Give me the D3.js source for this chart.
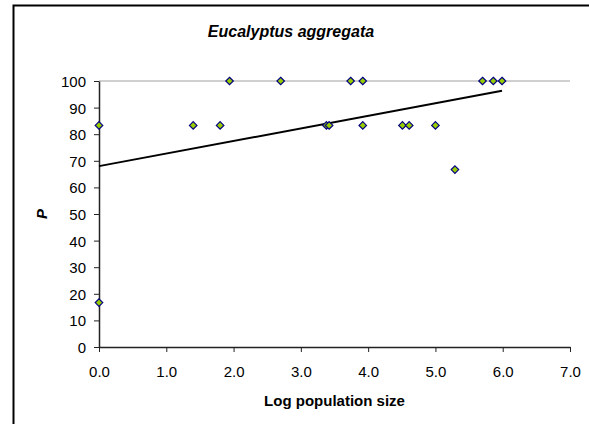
<!DOCTYPE html>
<html>
<head>
    <meta charset="UTF-8">
    <title>Eucalyptus aggregata</title>
    <script src="https://cdn.jsdelivr.net/npm/d3@7"></script>
    <style>
        body { margin: 0; background: #fff; }
        text { font-family: Arial, "Liberation Sans", sans-serif; }
    </style>
</head>
<body>
    <svg id="chart"></svg>
    <script>
        // data
        const logSize = [0, 0, 1.4, 1.8, 1.94, 2.7, 3.38, 3.42, 3.74, 3.92, 3.92, 4.51, 4.61, 5.0, 5.29, 5.7, 5.86, 5.99];
        const pValues = [83.3, 16.7, 83.3, 83.3, 100, 100, 83.3, 83.3, 100, 100, 83.3, 83.3, 83.3, 83.3, 66.7, 100, 100, 100];
        const trendX = [0, 5.99];
        const trendY = [68, 96.3];
        const xTicks = [0, 1, 2, 3, 4, 5, 6, 7];
        const yTicks = [0, 10, 20, 30, 40, 50, 60, 70, 80, 90, 100];

        const width = 589, height = 424;
        const margin = {left: 99, right: 19, top: 81, bottom: 77};

        const svg = d3.select("#chart")
            .attr("width", width)
            .attr("height", height);

        // chart area border (only top/left fall inside the picture)
        svg.append("rect")
            .attr("x", 13.5).attr("y", 5.5)
            .attr("width", 600).attr("height", 500)
            .attr("fill", "none")
            .attr("stroke", "#000")
            .attr("stroke-width", 2);

        const x = d3.scaleLinear().domain([0, 7]).range([margin.left, width - margin.right]);
        const y = d3.scaleLinear().domain([0, 100]).range([height - margin.bottom, margin.top]);

        // gridline at top
        svg.append("line")
            .attr("x1", x(0)).attr("x2", x(7))
            .attr("y1", y(100)).attr("y2", y(100))
            .attr("stroke", "#a0a0a0")
            .attr("stroke-width", 1);

        // axes
        const xAxis = svg.append("g")
            .attr("transform", `translate(0,${y(0)})`)
            .call(d3.axisBottom(x).tickValues(xTicks).tickFormat(d3.format(".1f")).tickSize(5).tickSizeOuter(0));
        const yAxis = svg.append("g")
            .attr("transform", `translate(${x(0)},0)`)
            .call(d3.axisLeft(y).tickValues(yTicks).tickSize(5).tickSizeOuter(0));

        [xAxis, yAxis].forEach(a => {
            a.select(".domain").attr("stroke", "#222").attr("stroke-width", 1.5);
            a.selectAll(".tick line").attr("stroke", "#222");
            a.selectAll("text").attr("fill", "#000").style("font-size", "15px");
        });
        xAxis.selectAll("text").attr("y", 30).attr("dy", 0);
        yAxis.selectAll("text").attr("x", -13).attr("dy", "0.36em");

        // trendline
        svg.append("line")
            .attr("x1", x(trendX[0])).attr("y1", y(trendY[0]))
            .attr("x2", x(trendX[1])).attr("y2", y(trendY[1]))
            .attr("stroke", "#000")
            .attr("stroke-width", 2);

        // diamonds
        const diamond = d3.symbol().type(d3.symbolDiamond2).size(36);
        svg.selectAll(".pt")
            .data(logSize.map((v, i) => [v, pValues[i]]))
            .join("path")
            .attr("class", "pt")
            .attr("d", diamond)
            .attr("transform", d => `translate(${x(d[0])},${y(d[1])})`)
            .attr("fill", "#99cc00")
            .attr("stroke", "#000080")
            .attr("stroke-width", 1.2);

        // title and labels
        svg.append("text")
            .attr("x", 291).attr("y", 37)
            .attr("text-anchor", "middle")
            .style("font-size", "16px")
            .style("font-weight", "bold")
            .style("font-style", "italic")
            .text("Eucalyptus aggregata");

        svg.append("text")
            .attr("x", (x(0) + x(7)) / 2).attr("y", 406)
            .attr("text-anchor", "middle")
            .style("font-size", "15px")
            .style("font-weight", "bold")
            .text("Log population size");

        svg.append("text")
            .attr("transform", `translate(47,${y(50)}) rotate(-90)`)
            .attr("text-anchor", "middle")
            .style("font-size", "15px")
            .style("font-weight", "bold")
            .style("font-style", "italic")
            .text("P");
    </script>
</body>
</html>
